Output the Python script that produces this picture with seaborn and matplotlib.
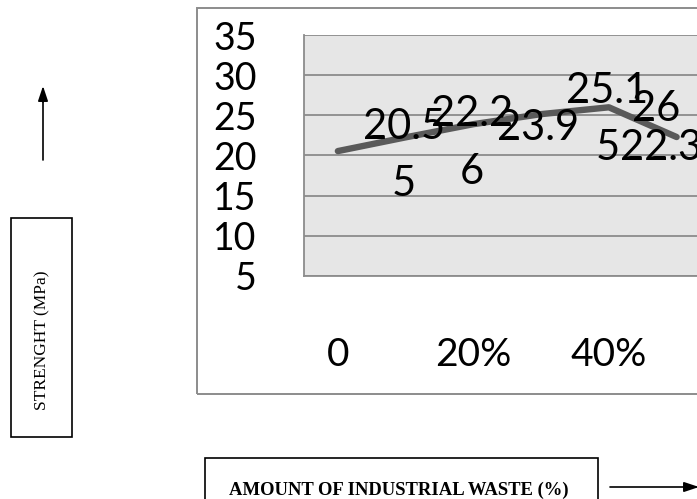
import matplotlib
matplotlib.use("Agg")
import matplotlib.pyplot as plt
from matplotlib.patches import Rectangle
import seaborn as sns
import pandas as pd

# Compressive strength against industrial waste replacement
waste_levels = ["0", "10%", "20%", "30%", "40%", "50%"]
strength_mpa = [20.55, 22.26, 23.9, 25.15, 26, 22.3]
shown_ticks = ["0", "20%", "40%"]
y_ticks = [5, 10, 15, 20, 25, 30, 35]

df = pd.DataFrame({"waste": waste_levels, "strength": strength_mpa})

sns.set_style("white")
plt.rcParams["font.family"] = ["Lato", "DejaVu Sans"]

W, H = 697, 499
fig = plt.figure(figsize=(W / 100, H / 100), dpi=100)
fig.patch.set_facecolor("white")


def fx(px):
    return px / W


def fy(py):
    return (H - py) / H


# plot area (extends past the right edge of the figure)
left, right, top, bottom = 304, 710.5, 35, 276
ax = fig.add_axes([fx(left), fy(bottom), fx(right - left), (bottom - top) / H])
ax.set_facecolor("#e6e6e6")

sns.lineplot(data=df, x="waste", y="strength", ax=ax, sort=False,
             color="#5a5a5a", linewidth=4.6, solid_capstyle="round")

ax.set_xlim(-0.5, len(waste_levels) - 0.5)
ax.set_ylim(5, 35)
ax.set_yticks(y_ticks)
ax.set_yticklabels([str(t) for t in y_ticks])
ax.set_xticks([waste_levels.index(t) for t in shown_ticks])
ax.set_xticklabels(shown_ticks)
ax.tick_params(axis="y", length=0, pad=34, labelsize=27, labelcolor="black")
ax.tick_params(axis="x", length=0, pad=44, labelsize=28, labelcolor="black")
ax.set_xlabel("")
ax.set_ylabel("")
ax.grid(axis="y", color="#8c8c8c", linewidth=1.3)
ax.grid(axis="x", visible=False)
ax.set_axisbelow(True)
for side in ["top", "right"]:
    ax.spines[side].set_visible(False)
for side in ["left", "bottom"]:
    ax.spines[side].set_color("#8c8c8c")
    ax.spines[side].set_linewidth(1.3)


def wrap(v):
    s = f"{v:g}"
    return s if len(s) <= 4 else s[:4] + "\n" + s[4:]


# data labels to the right of each point; the last one is pulled back inside
offsets = [(18, -3), (18, -4), (17, -3), (18, -4), (17, -1), (-41, -8)]
for i, (v, (dx, dy)) in enumerate(zip(strength_mpa, offsets)):
    ax.annotate(wrap(v), xy=(i, v), xytext=(dx, dy), textcoords="offset points",
                ha="left", va="center", multialignment="center",
                fontsize=30, linespacing=1.62, color="black", annotation_clip=False)

# chart border
fig.add_artist(Rectangle((fx(197), fy(394)), fx(600), (394 - 8) / H,
                         transform=fig.transFigure, fill=False,
                         edgecolor="#8c8c8c", linewidth=1.4))

# vertical axis caption with its box and arrow
fig.add_artist(Rectangle((fx(11), fy(437)), fx(61), (437 - 218) / H,
                         transform=fig.transFigure, fill=False,
                         edgecolor="black", linewidth=1.2))
fig.text(fx(42), fy(340), "STRENGHT (MPa)", rotation=90, ha="center", va="center",
         fontsize=12.5, family=["Liberation Serif"], color="black")
fig.add_artist(plt.Line2D([fx(43), fx(43)], [fy(160), fy(100)],
                          transform=fig.transFigure, color="black", linewidth=1.2))
ax.annotate("", xy=(fx(43), fy(86)), xytext=(fx(43), fy(102)),
            xycoords="figure fraction", textcoords="figure fraction",
            arrowprops=dict(arrowstyle="-|>,head_length=0.9,head_width=0.3",
                            color="black", lw=1.2, shrinkA=0, shrinkB=0))

# horizontal axis caption with its box and arrow
fig.add_artist(Rectangle((fx(205), fy(520)), fx(393), (520 - 458) / H,
                         transform=fig.transFigure, fill=False,
                         edgecolor="black", linewidth=1.2))
fig.text(fx(398.5), fy(490), "AMOUNT OF INDUSTRIAL WASTE (%)", ha="center", va="center",
         fontsize=13.4, fontweight="bold", family=["Liberation Serif"], color="black")
ax.annotate("", xy=(fx(699), fy(487)), xytext=(fx(610), fy(487)),
            xycoords="figure fraction", textcoords="figure fraction",
            arrowprops=dict(arrowstyle="-|>,head_length=0.9,head_width=0.3",
                            color="black", lw=1.2, shrinkA=0, shrinkB=0))

fig.savefig("out.png", dpi=100)
